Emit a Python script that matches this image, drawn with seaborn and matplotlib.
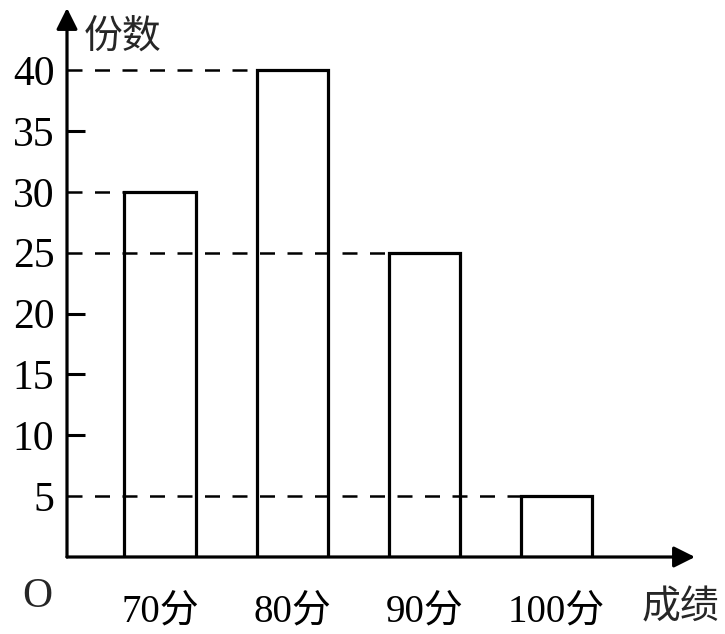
import matplotlib
matplotlib.use("Agg")
import matplotlib.pyplot as plt
import seaborn as sns
import pandas as pd

# data
grades = ["70分", "80分", "90分", "100分"]
counts = [30, 40, 25, 5]
ytick_values = [5, 10, 15, 20, 25, 30, 35, 40]
ytick_labels = ["5", "10", "15", "20", "25", "30", "35", "40"]

sns.set_theme(style="white")
plt.rcParams["font.family"] = ["Liberation Serif", "Noto Sans CJK SC", "DejaVu Sans"]

data = pd.DataFrame({"grade": grades, "count": counts})

fig = plt.figure(figsize=(7.25, 6.34), dpi=100)
ax = fig.add_axes([67 / 725, 77 / 634, 628 / 725, 549 / 634])

sns.barplot(data=data, x="grade", y="count", width=0.54, fill=False,
            color="black", linewidth=2.3, ax=ax, err_kws={"linewidth": 0})
for p in ax.patches:
    p.set_edgecolor("black")
    p.set_facecolor("none")

x0 = -0.705
ax.set_xlim(x0, 4.05)
ax.set_ylim(0, 45.1)

# dashed guide lines from the y axis to the left edge of each bar
for p, c in zip(ax.patches, counts):
    ax.plot([x0, p.get_x()], [c, c], color="black", lw=1.8,
            linestyle=(0, (6, 5)), clip_on=False, zorder=1)

# short tick marks inside the axis where there is no guide line
for v in ytick_values:
    if v not in counts:
        ax.plot([x0, x0 + 0.14], [v, v], color="black", lw=2.2,
                solid_capstyle="butt", clip_on=False)

# axes drawn as arrows
for s in ax.spines.values():
    s.set_visible(False)
ax.annotate("", xy=(1, 0), xytext=(0, 0), xycoords="axes fraction",
            arrowprops=dict(arrowstyle="-|>", color="black", lw=2.3,
                            mutation_scale=32, shrinkA=0, shrinkB=0))
ax.annotate("", xy=(0, 1), xytext=(0, 0), xycoords="axes fraction",
            arrowprops=dict(arrowstyle="-|>", color="black", lw=2.3,
                            mutation_scale=32, shrinkA=0, shrinkB=0))

ax.set_yticks(ytick_values)
ax.set_yticklabels(ytick_labels)
ax.tick_params(axis="y", left=False, length=0, pad=9, labelsize=30,
               colors="black")
ax.tick_params(axis="x", bottom=False, length=0, pad=26, labelsize=28,
               colors="black")
ax.set_xlabel("")
ax.set_ylabel("")
ax.grid(False)

ax.text(-0.58, 42.5, "份数", fontsize=28, va="center", ha="left", clip_on=False)
ax.text(-0.93, -3.3, "O", fontsize=30, va="center", ha="center", clip_on=False)
ax.text(3.94, -4.3, "成绩", fontsize=28, va="center", ha="center", clip_on=False)

fig.savefig("out.png", dpi=100)
